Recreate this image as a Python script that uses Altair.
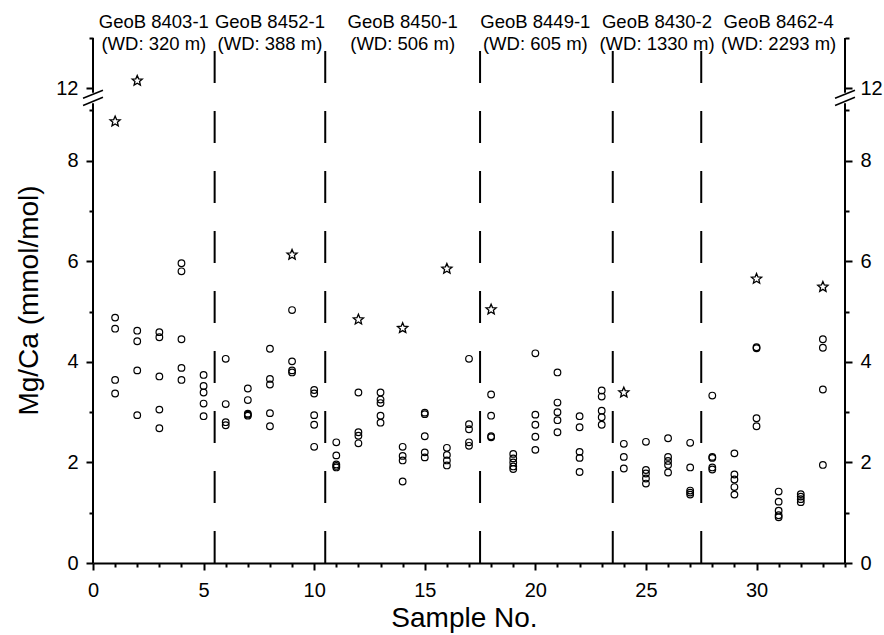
import math
import altair as alt
import pandas as pd

# ---------------- data ----------------
samples = list(range(1, 34))
circle_values = [
    [4.88, 4.66, 3.64, 3.37],        # 1
    [4.62, 4.41, 3.83, 2.94],        # 2
    [4.59, 4.49, 3.71, 3.05, 2.68],  # 3
    [5.96, 5.80, 4.45, 3.88, 3.64],  # 4
    [3.74, 3.52, 3.39, 3.17, 2.92],  # 5
    [4.06, 3.16, 2.80, 2.74],        # 6
    [3.47, 3.24, 2.97, 2.95, 2.93],  # 7
    [4.26, 3.66, 3.55, 2.98, 2.72],  # 8
    [5.03, 4.01, 3.83, 3.79],        # 9
    [3.44, 3.37, 2.94, 2.75, 2.31],  # 10
    [2.40, 2.14, 1.96, 1.93, 1.90],  # 11
    [3.39, 2.60, 2.53, 2.38],        # 12
    [3.39, 3.25, 3.18, 2.93, 2.79],  # 13
    [2.31, 2.13, 2.04, 1.62],        # 14
    [2.99, 2.96, 2.52, 2.20, 2.10],  # 15
    [2.29, 2.15, 2.04, 1.94],        # 16
    [4.06, 2.76, 2.66, 2.40, 2.33],  # 17
    [3.35, 2.93, 2.52, 2.50],        # 18
    [2.17, 2.08, 2.00, 1.92, 1.87],  # 19
    [4.17, 2.95, 2.75, 2.51, 2.25],  # 20
    [3.79, 3.19, 3.00, 2.84, 2.60],  # 21
    [2.92, 2.70, 2.21, 2.09, 1.81],  # 22
    [3.43, 3.31, 3.03, 2.90, 2.75],  # 23
    [2.37, 2.11, 1.88],              # 24
    [2.41, 1.85, 1.78, 1.68, 1.58],  # 25
    [2.48, 2.11, 2.03, 1.95, 1.80],  # 26
    [2.39, 1.90, 1.44, 1.40, 1.36],  # 27
    [3.33, 2.11, 2.09, 1.90, 1.86],  # 28
    [2.18, 1.76, 1.66, 1.51, 1.36],  # 29
    [4.29, 4.27, 2.88, 2.72],        # 30
    [1.42, 1.22, 1.04, 0.95, 0.91],  # 31
    [1.37, 1.32, 1.27, 1.21],        # 32
    [4.45, 4.28, 3.45, 1.95],        # 33
]
star_samples = [1, 2, 9, 12, 14, 16, 18, 24, 30, 33]
star_values = [8.78, 12.15, 6.13, 4.84, 4.67, 5.85, 5.04, 3.39, 5.65, 5.49]

core_names = ["GeoB 8403-1", "GeoB 8452-1", "GeoB 8450-1",
              "GeoB 8449-1", "GeoB 8430-2", "GeoB 8462-4"]
water_depths = ["(WD: 320 m)", "(WD: 388 m)", "(WD: 506 m)",
                "(WD: 605 m)", "(WD: 1330 m)", "(WD: 2293 m)"]
core_label_x = [2.75, 8, 14, 20, 25.5, 31]
core_boundaries = [5.5, 10.5, 17.5, 23.5, 27.5]

x_ticks = list(range(0, 35))
y_tick_values = [0, 1, 2, 3, 4, 5, 6, 7, 8, 9, 12, 13]

# ---------------- axis-break settings ----------------
SHIFT = 2.56          # values above the break are drawn this much lower
X_MAX = 34
P_TOP = 13 - SHIFT    # top of plot in drawn units
LOWER_END = 9.14
UPPER_START = 9.35
SLASH_CENTERS = [9.18, 9.32]
FONT = "Liberation Sans"

def drawn(v):
    return v - SHIFT if v > 10 else v

y_tick_pos = [drawn(v) for v in y_tick_values]

# ---------------- tables ----------------
circ_df = pd.DataFrame(
    [{"sample": s, "v": v} for s, vals in zip(samples, circle_values) for v in vals]
)
star_df = pd.DataFrame({"sample": star_samples, "v": star_values})
bound_df = pd.DataFrame({"x": core_boundaries, "y0": 0.0, "y1": 10.2})
label_df = pd.DataFrame(
    [{"x": x, "y": 10.64, "t": n} for x, n in zip(core_label_x, core_names)]
    + [{"x": x, "y": 10.205, "t": w} for x, w in zip(core_label_x, water_depths)]
)
axisline_df = pd.DataFrame(
    [{"x": xa, "y0": a, "y1": b} for xa in (0, X_MAX)
     for a, b in ((0, LOWER_END), (UPPER_START, P_TOP))]
)
slash_df = pd.DataFrame(
    [{"x0": xa - 0.45, "x1": xa + 0.45, "y0": c - 0.08, "y1": c + 0.08}
     for xa in (0, X_MAX) for c in SLASH_CENTERS]
)

# star symbol path
pts = []
for k in range(10):
    ang = math.radians(-90 + 36 * k)
    r = 1.0 if k % 2 == 0 else 0.45
    pts.append(f"{r*math.cos(ang):.3f},{r*math.sin(ang):.3f}")
STAR = "M" + "L".join(pts) + "Z"

xs = alt.Scale(domain=[0, X_MAX], nice=False, zero=False)
ys = alt.Scale(domain=[0, P_TOP], nice=False, zero=False)
transform_expr = f"datum.v > 10 ? datum.v - {SHIFT} : datum.v"

ylabel_expr = ("datum.value > 9.3 ? (datum.value < 10 ? '12' : '') : "
               "(datum.value % 2 == 0 ? format(datum.value, 'd') : '')")
ytick_size = {"condition": {"test": "datum.value % 2 == 1 || datum.value > 10", "value": 4}, "value": 7}

common_y_axis = dict(values=y_tick_pos, labelExpr=ylabel_expr, tickSize=ytick_size,
                     domain=False, grid=False, tickWidth=2, tickColor="black",
                     labelFont=FONT, labelFontSize=20, labelColor="black",
                     labelPadding=8, labelBaseline="middle")

x_axis = alt.Axis(values=x_ticks,
                  labelExpr="datum.value % 5 == 0 ? format(datum.value, 'd') : ''",
                  tickSize={"condition": {"test": "datum.value % 5 == 0", "value": 7}, "value": 4},
                  domain=True, domainWidth=2, domainColor="black", grid=False,
                  tickWidth=2, tickColor="black", labelFont=FONT, labelFontSize=20,
                  labelColor="black", labelPadding=10, labelFlush=False,
                  title="Sample No.", titleFont=FONT, titleFontSize=28,
                  titleFontWeight="normal", titleColor="black",
                  titleX=371, titleY=63, titleBaseline="alphabetic", titleAlign="center")

circles = alt.Chart(circ_df).transform_calculate(p=transform_expr).mark_point(
    shape="circle", filled=False, size=44, strokeWidth=1.2, color="black", opacity=1
).encode(
    x=alt.X("sample:Q", scale=xs, axis=x_axis),
    y=alt.Y("p:Q", scale=ys, axis=alt.Axis(
        orient="left", title="Mg/Ca (mmol/mol)", titleFont=FONT, titleFontSize=28,
        titleFontWeight="normal", titleColor="black", titleX=-56, titleY=262,
        titleAngle=-90, titleBaseline="alphabetic", titleAlign="center",
        **common_y_axis)),
)

stars = alt.Chart(star_df).transform_calculate(p=transform_expr).mark_point(
    shape=STAR, filled=False, size=115, strokeWidth=1.3, color="black", opacity=1
).encode(
    x=alt.X("sample:Q", scale=xs, axis=None),
    y=alt.Y("p:Q", scale=ys, axis=alt.Axis(orient="right", title=None, **common_y_axis)),
)

bounds = alt.Chart(bound_df).mark_rule(
    color="black", strokeWidth=2, strokeDash=[32, 28]
).encode(
    x=alt.X("x:Q", scale=xs, axis=None),
    y=alt.Y("y0:Q", scale=ys, axis=None),
    y2="y1:Q",
)

axislines = alt.Chart(axisline_df).mark_rule(color="black", strokeWidth=2).encode(
    x=alt.X("x:Q", scale=xs, axis=None),
    y=alt.Y("y0:Q", scale=ys, axis=None),
    y2="y1:Q",
)

slashes = alt.Chart(slash_df).mark_rule(color="black", strokeWidth=1.6).encode(
    x=alt.X("x0:Q", scale=xs, axis=None),
    x2="x1:Q",
    y=alt.Y("y0:Q", scale=ys, axis=None),
    y2="y1:Q",
)

labels = alt.Chart(label_df).mark_text(
    font=FONT, fontSize=18.5, color="black", align="center", baseline="alphabetic"
).encode(
    x=alt.X("x:Q", scale=xs, axis=None),
    y=alt.Y("y:Q", scale=ys, axis=None),
    text="t:N",
)

chart = alt.layer(
    bounds, axislines, slashes, circles, stars, labels
).resolve_axis(x="independent", y="independent").properties(
    width=752, height=525,
    autosize=alt.AutoSizeParams(type="none"),
    padding={"left": 93, "top": 38, "right": 39, "bottom": 72},
    background="white",
).configure_view(stroke=None)

chart.save("out.html", embed_options={"renderer": "svg", "actions": False})
